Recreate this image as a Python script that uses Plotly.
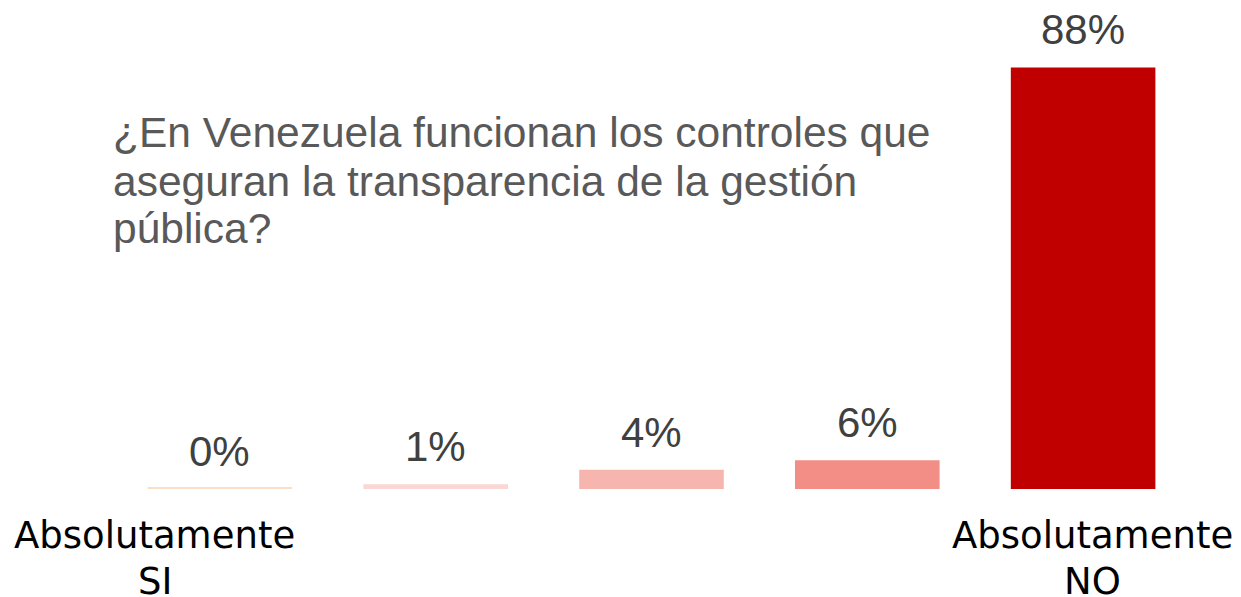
import plotly.graph_objects as go

categories = ["Absolutamente SI", "Nivel 2", "Nivel 3", "Nivel 4", "Absolutamente NO"]
values = [0, 1, 4, 6, 88]
value_labels = ["0%", "1%", "4%", "6%", "88%"]
bar_colors = ["#FBE0C8", "#FAD7D3", "#F7B5B0", "#F28E86", "#C00000"]
end_labels = {0: ["Absolutamente", "SI"], 4: ["Absolutamente", "NO"]}
question_lines = [
    "¿En Venezuela funcionan los controles que",
    "aseguran la transparencia de la gestión",
    "pública?",
]

# zero values are drawn as a thin visible stroke, as in the original
heights = [v if v > 0 else 0.4 for v in values]

fig = go.Figure(go.Bar(
    x=categories, y=heights, marker=dict(color=bar_colors, line=dict(width=0)),
    hoverinfo="skip",
))

annotations = []
for c, v, t in zip(categories, values, value_labels):
    annotations.append(dict(
        x=c, y=v, xref="x", yref="y", text=t, showarrow=False,
        yanchor="bottom", yshift=12,
        font=dict(family="Liberation Sans, Arial", size=42, color="#404040"),
    ))

shifts = {0: -65, 4: 9}
for i, lines in end_labels.items():
    for j, line in enumerate(lines):
        annotations.append(dict(
            x=categories[i], y=0, xref="x", yref="y", text=line, showarrow=False,
            yanchor="top", yshift=-23 - 46 * j, xshift=shifts[i],
            font=dict(family="DejaVu Sans", size=37, color="#000000"),
        ))

title_tops = [0.7965, 0.6962, 0.5981]
for line, ytop in zip(question_lines, title_tops):
    annotations.append(dict(
        x=0, y=ytop, xref="paper", yref="paper", text=line, showarrow=False,
        xanchor="left", yanchor="top", align="left", xshift=-1,
        font=dict(family="Liberation Sans, Arial", size=42.5, color="#595959"),
    ))

fig.update_layout(
    width=1241, height=597,
    margin=dict(l=104, r=58, t=2, b=116),
    paper_bgcolor="white", plot_bgcolor="white",
    bargap=0.33, showlegend=False,
    xaxis=dict(type="category", range=[-0.5, 4.5], showticklabels=False,
               showgrid=False, zeroline=False, showline=False, ticks=""),
    yaxis=dict(range=[0, 100], visible=False),
    annotations=annotations,
)

fig.write_html("out.html")
